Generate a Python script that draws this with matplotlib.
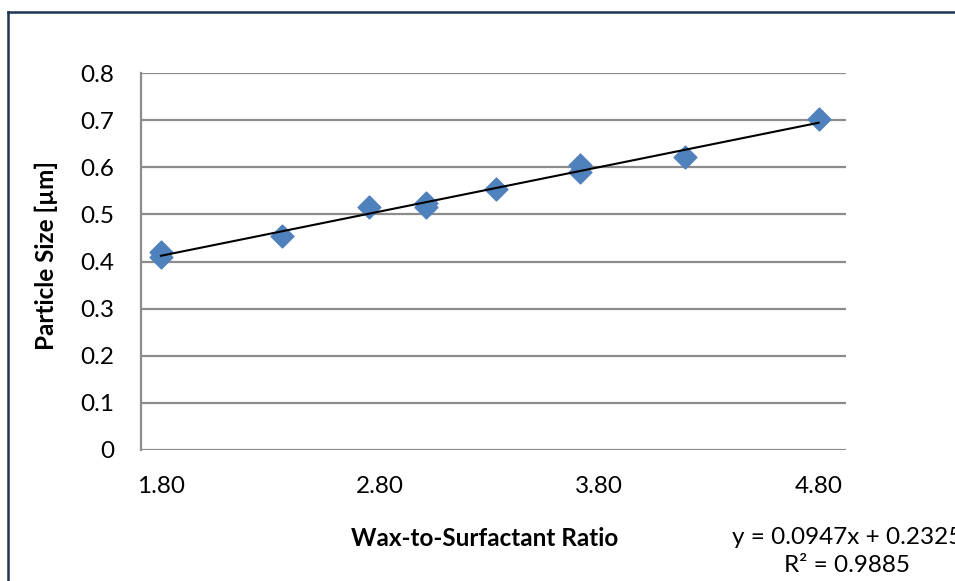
import matplotlib
matplotlib.use("Agg")
import matplotlib.pyplot as plt
from matplotlib.lines import Line2D
import numpy as np

plt.rcParams['font.family'] = ['Lato', 'DejaVu Sans']

# Data
ratio = [1.80, 1.80, 2.35, 2.75, 3.01, 3.01, 3.33, 3.71, 3.71, 4.19, 4.80]
size_um = [0.420, 0.410, 0.455, 0.515, 0.525, 0.515, 0.553, 0.605, 0.590, 0.622, 0.703]
x_ticks = [1.80, 2.80, 3.80, 4.80]
y_ticks = [0, 0.1, 0.2, 0.3, 0.4, 0.5, 0.6, 0.7, 0.8]
x_label = "Wax-to-Surfactant Ratio"
y_label = "Particle Size [µm]"
eq_text = "y = 0.0947x + 0.2325"
r2_text = "R² = 0.9885"

W, H = 955, 581
fig = plt.figure(figsize=(W / 100, H / 100), dpi=100)

def fx(px):
    return px / W

def fy(py):
    return 1 - py / H

ax = fig.add_axes([fx(141), fy(450), fx(846) - fx(141), fy(73) - fy(450)])

blue = '#4F81BD'
ax.scatter(ratio, size_um, marker='D', s=135, color=blue, edgecolors=blue, zorder=3)

# linear trendline
coef = np.polyfit(ratio, size_um, 1)
xs = np.array([min(ratio), max(ratio)])
ax.plot(xs, np.polyval(coef, xs), color='black', lw=1.5, zorder=4)

ax.set_xlim(1.709, 4.925)
ax.set_ylim(0, 0.8)
ax.set_xticks(x_ticks)
ax.set_xticklabels([f"{v:.2f}" for v in x_ticks])
ax.set_yticks(y_ticks)
ax.set_yticklabels([f"{v:g}" for v in y_ticks])
ax.tick_params(axis='both', length=0, labelsize=17.5, pad=19, colors='black')
ax.yaxis.grid(True, color='#8C8C8C', lw=1.6)
ax.set_axisbelow(True)
for s in ['top', 'right', 'bottom']:
    ax.spines[s].set_visible(False)
ax.spines['left'].set_color('#8C8C8C')
ax.spines['left'].set_linewidth(1.6)

fig.text(fx(485), fy(538), x_label, ha='center', va='center', fontsize=17.5, fontweight='bold')
fig.text(fx(46), fy(256), y_label, ha='center', va='center', rotation=90, fontsize=17.5, fontweight='bold')
fig.text(fx(847), fy(537), eq_text, ha='center', va='center', fontsize=17.5)
fig.text(fx(847), fy(566), r2_text, ha='center', va='center', fontsize=17.5)

# outer chart border (left and top)
navy = '#1F3552'
fig.add_artist(Line2D([fx(8), fx(8)], [fy(12), 0], color=navy, lw=1.8, transform=fig.transFigure))
fig.add_artist(Line2D([fx(8), 1], [fy(12), fy(12)], color=navy, lw=1.8, transform=fig.transFigure))

fig.savefig("out.png", dpi=100)
